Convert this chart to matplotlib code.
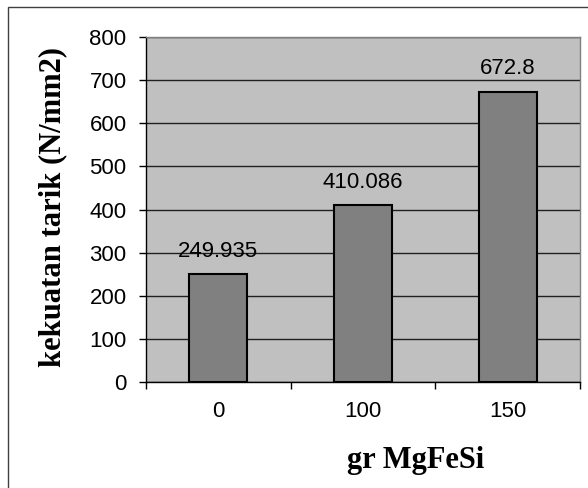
import matplotlib
matplotlib.use("Agg")
import matplotlib.pyplot as plt
from matplotlib.patches import Rectangle

# data
categories = ["0", "100", "150"]
values = [249.935, 410.086, 672.8]
value_labels = ["249.935", "410.086", "672.8"]
y_ticks = [0, 100, 200, 300, 400, 500, 600, 700, 800]

W, H = 588, 488
fig = plt.figure(figsize=(W / 100, H / 100), dpi=100)

# outer chart border (only left/top visible in the reference)
fig.add_artist(Rectangle((8 / W, -0.1), 1.2, (H - 7) / H + 0.1, transform=fig.transFigure,
                         fill=False, edgecolor="#404040", linewidth=1))

left, right, top, bottom = 146, 580, 37, 382
ax = fig.add_axes([left / W, (H - bottom) / H, (right - left) / W, (bottom - top) / H])
ax.set_facecolor("#c0c0c0")

x = list(range(len(categories)))
ax.bar(x, values, width=0.4, color="#808080", edgecolor="black", linewidth=1.5, zorder=3)
for xi, v, lab in zip(x, values, value_labels):
    ax.annotate(lab, (xi, v), xytext=(0, 16.5), textcoords="offset points",
                ha="center", va="center", fontsize=16, family="Liberation Sans", zorder=4)

ax.set_xlim(-0.5, len(categories) - 0.5)
ax.set_ylim(0, 800)
ax.set_yticks(y_ticks)
ax.yaxis.grid(True, color="#202020", linewidth=1)
ax.set_axisbelow(True)

ax.set_xticks(x)
ax.set_xticklabels(categories, family="Liberation Sans", fontsize=16)
ax.tick_params(axis="x", which="major", length=0, pad=14)
ax.set_xticks([i - 0.5 for i in range(len(categories) + 1)], minor=True)
ax.tick_params(axis="x", which="minor", length=5, direction="out", width=1)
ax.tick_params(axis="y", length=5, direction="out", width=1, pad=9, labelsize=16)
for t in ax.get_yticklabels():
    t.set_family("Liberation Sans")

ax.spines["left"].set_color("black")
ax.spines["bottom"].set_color("black")
ax.spines["top"].set_color("#808080")
ax.spines["right"].set_color("#808080")
for s in ax.spines.values():
    s.set_linewidth(1)

fig.text(53 / W, 1 - 207 / H, "kekuatan tarik (N/mm2)", rotation=90, ha="center", va="center",
         family="Liberation Serif", fontweight="bold", fontsize=22)
fig.text(416 / W, 1 - 468 / H, "gr MgFeSi", ha="center", va="baseline",
         family="Liberation Serif", fontweight="bold", fontsize=22)

fig.savefig("out.png", dpi=100)
